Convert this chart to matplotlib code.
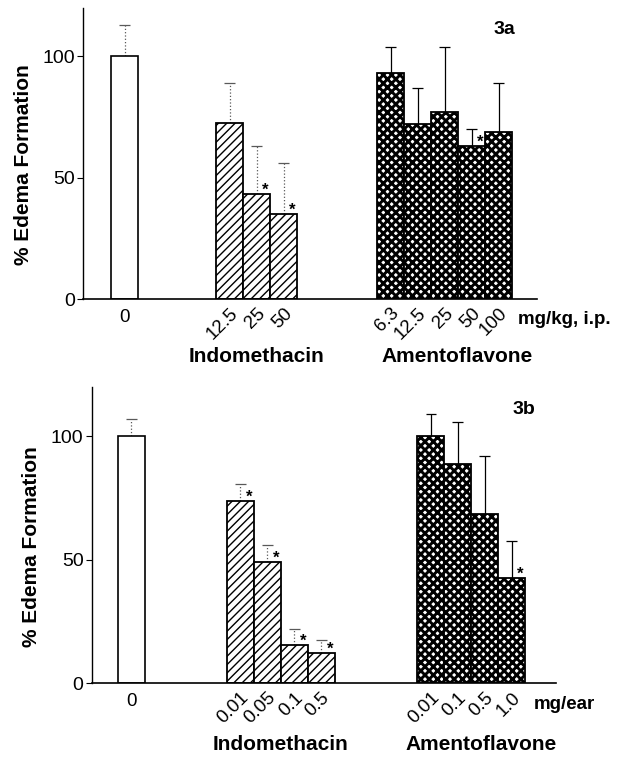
import numpy as np
import matplotlib
matplotlib.use('Agg')
import matplotlib.pyplot as plt

plt.rcParams['font.family'] = ['Liberation Sans', 'DejaVu Sans']

# ---- data ----
# panel 3a : mg/kg, i.p.
ctrl_a = 100
ctrl_a_top = 113
indo_a_doses = ['12.5', '25', '50']
indo_a = [72.5, 43.5, 35]
indo_a_top = [89, 63, 56]
indo_a_star = [False, True, True]
amento_a_doses = ['6.3', '12.5', '25', '50', '100']
amento_a = [93, 72, 77, 63, 69]
amento_a_top = [104, 87, 104, 70, 89]
amento_a_star = [False, False, False, True, False]

# panel 3b : mg/ear
ctrl_b = 100
ctrl_b_top = 107
indo_b_doses = ['0.01', '0.05', '0.1', '0.5']
indo_b = [74, 49, 15.5, 12]
indo_b_top = [80.5, 56, 22, 17.5]
indo_b_star = [True, True, True, True]
amento_b_doses = ['0.01', '0.1', '0.5', '1.0']
amento_b = [100, 89, 68.5, 42.5]
amento_b_top = [109, 106, 92, 57.5]
amento_b_star = [False, False, False, True]


def draw_errors(ax, x, vals, tops, ls='-', color='black'):
    ax.vlines(x, vals, tops, colors=color, linestyles=ls, lw=0.9, zorder=1)
    ax.hlines(tops, np.asarray(x) - 0.2, np.asarray(x) + 0.2, colors=color, lw=0.9, zorder=1)


def hatched_bars(ax, x, vals, hatch, hlw):
    plt.rcParams['hatch.linewidth'] = hlw
    bars = ax.bar(x, vals, width=1.0, color='white', edgecolor='black',
                  linewidth=1.3, hatch=hatch, zorder=2)
    for b in bars:
        if hasattr(b, 'set_hatch_linewidth'):
            b.set_hatch_linewidth(hlw)
    return bars


def panel(ax, ctrl, ctrl_top, indo, indo_top, indo_doses, indo_star,
          amento, amento_top, amento_doses, amento_star,
          x_ctrl, x_indo0, x_amento0, xmax, unit, tag, unit_x, group_y):
    xi = x_indo0 + np.arange(len(indo))
    xa = x_amento0 + np.arange(len(amento))

    ax.bar([x_ctrl], [ctrl], width=1.0, color='white', edgecolor='black',
           linewidth=1.2, zorder=2)
    hatched_bars(ax, xi, indo, '////', 1.0)
    hatched_bars(ax, xa, amento, 'xxxx', 2.1)

    draw_errors(ax, [x_ctrl], [ctrl], [ctrl_top], ls=':', color='0.35')
    draw_errors(ax, xi, indo, indo_top, ls=':', color='0.35')
    draw_errors(ax, xa, amento, amento_top)

    for x, v, s in zip(list(xi) + list(xa), list(indo) + list(amento),
                       list(indo_star) + list(amento_star)):
        if s:
            ax.text(x + 0.32, v + 1.5, '*', ha='center', va='center',
                    fontsize=12, fontweight='bold')

    # tick labels
    ax.text(x_ctrl, -4, '0', ha='center', va='top', fontsize=13.5)
    for x, lab in zip(list(xi) + list(xa), list(indo_doses) + list(amento_doses)):
        ax.text(x + 0.22, -4.8, lab, rotation=45, ha='right', va='center',
                rotation_mode='anchor', fontsize=13.5, clip_on=False)

    ax.text(unit_x, -8.5, unit, ha='left', va='center', fontsize=13.5,
            fontweight='bold', clip_on=False)
    ax.text(xi.mean(), group_y, 'Indomethacin', ha='center', va='center',
            fontsize=15, fontweight='bold', clip_on=False)
    ax.text(xa.mean() + (0.45 if len(amento) == 5 else 0.35), group_y, 'Amentoflavone',
            ha='center', va='center', fontsize=15, fontweight='bold', clip_on=False)
    ax.text(xmax - 1.2, 111, tag, ha='center', va='center', fontsize=14,
            fontweight='bold')

    ax.set_xlim(0, xmax)
    ax.set_ylim(0, 120)
    ax.set_yticks([0, 50, 100])
    ax.tick_params(axis='y', labelsize=14, length=4, width=0.8, direction='out', pad=2)
    ax.set_xticks([])
    for side in ['top', 'right']:
        ax.spines[side].set_visible(False)
    ax.spines['left'].set_linewidth(1.0)
    ax.spines['bottom'].set_linewidth(1.2)


fig = plt.figure(figsize=(6.21, 7.58), dpi=100)
ax1 = fig.add_axes([0.1337, 0.6055, 0.731, 0.384])
ax2 = fig.add_axes([0.148, 0.0989, 0.747, 0.3905])

panel(ax1, ctrl_a, ctrl_a_top, indo_a, indo_a_top, indo_a_doses, indo_a_star,
      amento_a, amento_a_top, amento_a_doses, amento_a_star,
      x_ctrl=1.54, x_indo0=5.43, x_amento0=11.39, xmax=16.8,
      unit='mg/kg, i.p.', tag='3a', unit_x=16.1, group_y=-23.5)
panel(ax2, ctrl_b, ctrl_b_top, indo_b, indo_b_top, indo_b_doses, indo_b_star,
      amento_b, amento_b_top, amento_b_doses, amento_b_star,
      x_ctrl=1.46, x_indo0=5.5, x_amento0=12.57, xmax=17.2,
      unit='mg/ear', tag='3b', unit_x=16.4, group_y=-25)

fig.text(24 / 621, 1 - 165 / 758, '% Edema Formation', rotation=90, ha='center',
         va='center', fontsize=15, fontweight='bold')
fig.text(32 / 621, 1 - 547 / 758, '% Edema Formation', rotation=90, ha='center',
         va='center', fontsize=15, fontweight='bold')

fig.savefig('out.png', dpi=100)
